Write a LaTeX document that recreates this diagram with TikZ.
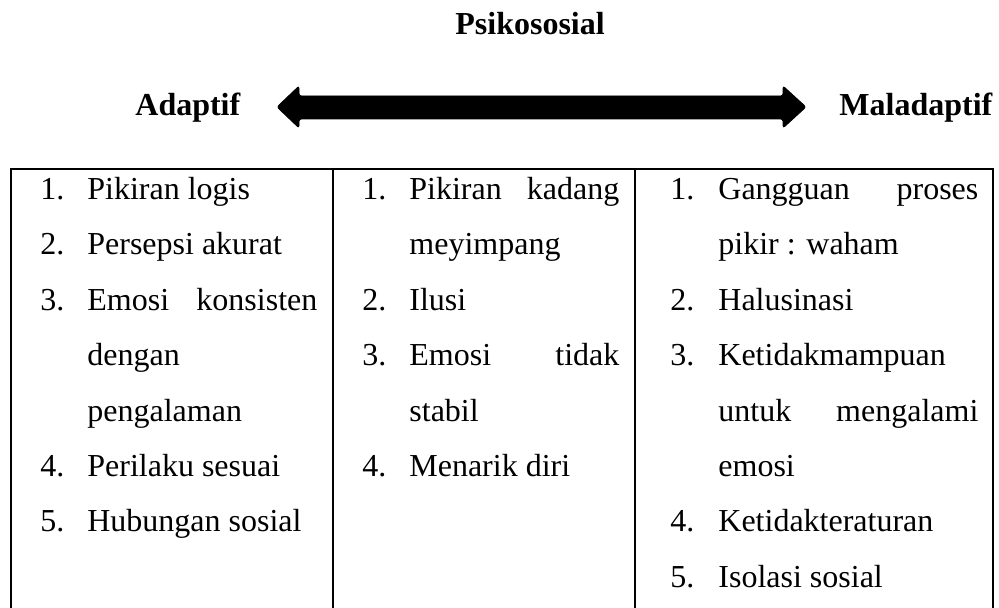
\documentclass[tikz,border=0pt]{standalone}
\usepackage{fontspec}
\setmainfont{Liberation Serif}
\usepackage{array}
\begin{document}
\begin{tikzpicture}[x=0.5pt,y=-0.5pt,
  heading/.style={font=\fontsize{16}{19}\selectfont\bfseries, inner sep=0pt, anchor=base west},
  cell/.style={font=\fontsize{16}{27.7}\selectfont, inner sep=0pt, anchor=base west},
  rule/.style={line width=1pt, line join=miter},
  fatarrow/.style={fill=black, draw=black, line width=0.4pt, rounded corners=1.2pt}]
\useasboundingbox (0,0) rectangle (999,608);

% headings
\node[heading] (title) at (455,35) {Psikososial};
\node[heading] (adaptif) at (135,116) {Adaptif};
\node[heading] (maladaptif) at (839,116) {Maladaptif};

% double-headed continuum arrow
\draw[fatarrow] (277,107) -- (299,86) -- (299,96) -- (783,96) -- (783,86)
  -- (806,107) -- (783,128) -- (783,119) -- (299,119) -- (299,128) -- cycle;

% table frame (open at the bottom)
\draw[rule] (11,612) -- (11,169) -- (993,169) -- (993,612);
\draw[rule] (333,169) -- (333,612);
\draw[rule] (635,169) -- (635,612);

% column contents
\node[cell] (col1) at (40,199.6) {\begin{tabular}[t]{@{}p{23.5pt}@{}l@{}}
1. & Pikiran logis\\
2. & Persepsi akurat\\
3. & \makebox[115pt][s]{Emosi konsisten}\\
   & dengan\\
   & pengalaman\\
4. & Perilaku sesuai\\
5. & Hubungan sosial
\end{tabular}};

\node[cell] (col2) at (362,199.6) {\begin{tabular}[t]{@{}p{23.5pt}@{}l@{}}
1. & \makebox[105pt][s]{Pikiran kadang}\\
   & meyimpang\\
2. & Ilusi\\
3. & \makebox[105pt][s]{Emosi tidak}\\
   & stabil\\
4. & Menarik diri
\end{tabular}};

\node[cell] (col3) at (670,199.6) {\begin{tabular}[t]{@{}p{24pt}@{}l@{}}
1. & \makebox[130pt][s]{Gangguan proses}\\
   & pikir : waham\\
2. & Halusinasi\\
3. & Ketidakmampuan\\
   & \makebox[130pt][s]{untuk mengalami}\\
   & emosi\\
4. & Ketidakteraturan\\
5. & Isolasi sosial
\end{tabular}};
\end{tikzpicture}
\end{document}
